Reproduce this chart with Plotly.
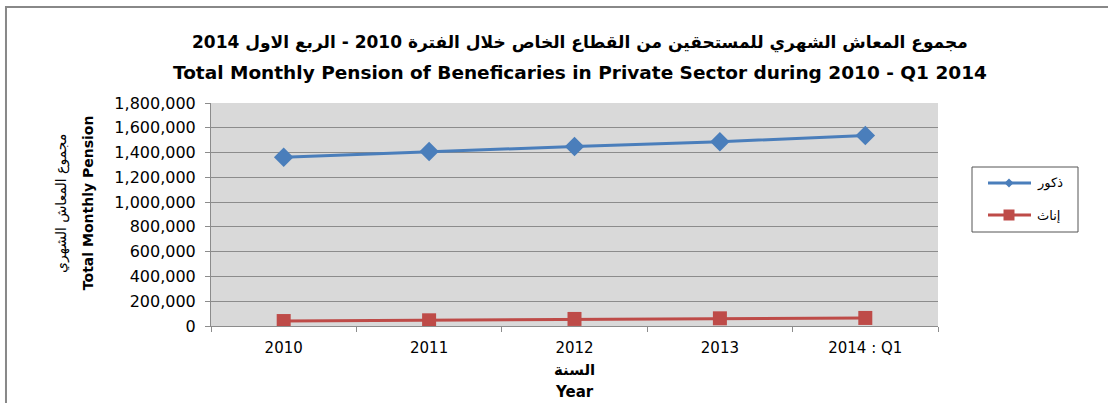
import plotly.graph_objects as go

years = ["2010", "2011", "2012", "2013", "2014 : Q1"]
males = [1363000, 1409000, 1449000, 1487000, 1538000]
females = [40000, 46000, 57000, 62000, 65000]
y_ticks = [0, 200000, 400000, 600000, 800000, 1000000, 1200000, 1400000, 1600000, 1800000]

series_names = ["ذكور", "إناث"]
title_ar = "مجموع المعاش الشهري للمستحقين من القطاع الخاص خلال الفترة 2010 - الربع الاول 2014"
title_en = "Total Monthly Pension of Beneficaries in Private Sector during 2010 - Q1 2014"
ytitle_ar = "مجموع المعاش الشهري"
ytitle_en = "Total Monthly Pension"
xtitle_ar = "السنة"
xtitle_en = "Year"

BLUE = "#4A7EBB"
RED = "#BE4B48"
GRID = "#8c8c8c"
FONT = "DejaVu Sans"

# plot-area geometry in pixels (used to place the hand-built legend in paper units)
PX_L, PX_R, PX_T, PX_B = 211, 938, 103, 326


def px(x):
    return (x - PX_L) / (PX_R - PX_L)


def py(y):
    return (PX_B - y) / (PX_B - PX_T)


fig = go.Figure()
fig.add_trace(go.Scatter(
    x=years, y=males, name=series_names[0], mode="lines+markers",
    line=dict(color=BLUE, width=3),
    marker=dict(symbol="diamond", size=15, color=BLUE),
))
fig.add_trace(go.Scatter(
    x=years, y=females, name=series_names[1], mode="lines+markers",
    line=dict(color=RED, width=3),
    marker=dict(symbol="square", size=14, color=RED),
))

annotations = [
    dict(text=f"<b>{title_ar}</b>", x=0.5076, y=1.2735, font=dict(size=17)),
    dict(text=f"<b>{title_en}</b>", x=0.5076, y=1.139, font=dict(size=18.5)),
    dict(text=f"<b>{xtitle_ar}</b>", x=0.5, y=-0.197, font=dict(size=15)),
    dict(text=f"<b>{xtitle_en}</b>", x=0.5, y=-0.296, font=dict(size=15)),
    dict(text=ytitle_ar, x=-0.205, y=0.5516, textangle=-90, font=dict(size=14)),
    dict(text=f"<b>{ytitle_en}</b>", x=-0.169, y=0.5516, textangle=-90, font=dict(size=14)),
]
for a in annotations:
    a.update(xanchor="center")

# legend: framed box with line + marker samples and labels
shapes = [
    dict(type="rect", x0=-0.282, x1=1.5, y0=-0.6, y1=1.4305,
         line=dict(color="#888888", width=2)),
    dict(type="rect", x0=px(972), x1=px(1078), y0=py(232), y1=py(167),
         line=dict(color="#555555", width=1), fillcolor="white"),
]
leg_rows = [(183, BLUE, "diamond"), (215, RED, "square")]
for (row_y, color, sym), name in zip(leg_rows, series_names):
    shapes.append(dict(type="line", x0=px(988), x1=px(1031), y0=py(row_y), y1=py(row_y),
                       line=dict(color=color, width=3)))
    cx, cy = 1009, row_y
    if sym == "diamond":
        h = 4.5
        path = (f"M {px(cx - h)} {py(cy)} L {px(cx)} {py(cy - h)} "
                f"L {px(cx + h)} {py(cy)} L {px(cx)} {py(cy + h)} Z")
        shapes.append(dict(type="path", path=path, fillcolor=color, line=dict(width=0)))
    else:
        h = 5.5
        shapes.append(dict(type="rect", x0=px(cx - h), x1=px(cx + h),
                           y0=py(cy + h), y1=py(cy - h),
                           fillcolor=color, line=dict(width=0)))
    annotations.append(dict(text=name, x=px(1035), y=py(row_y), xanchor="left",
                            font=dict(size=13)))

for a in annotations:
    a.update(xref="paper", yref="paper", yanchor="middle", showarrow=False)
    a["font"].update(family=FONT, color="black")
for s in shapes:
    s.update(xref="paper", yref="paper", layer="above")

fig.update_layout(
    width=1108, height=403,
    margin=dict(l=PX_L, r=1108 - PX_R, t=PX_T, b=403 - PX_B),
    paper_bgcolor="white",
    plot_bgcolor="#D9D9D9",
    font=dict(family=FONT, color="black"),
    showlegend=False,
    annotations=annotations,
    shapes=shapes,
)

fig.update_xaxes(
    type="category",
    range=[-0.5, len(years) - 0.5],
    showgrid=False,
    showline=True, linecolor=GRID, linewidth=1,
    ticks="outside", tickson="boundaries", ticklen=5, tickcolor=GRID,
    tickfont=dict(size=15, family=FONT),
    ticklabelstandoff=8,
)
fig.update_yaxes(
    range=[0, 1800000],
    tickvals=y_ticks,
    ticktext=[f"{v:,}" for v in y_ticks],
    showgrid=True, gridcolor=GRID, gridwidth=1,
    showline=True, linecolor=GRID, linewidth=1,
    ticks="outside", ticklen=5, tickcolor=GRID,
    tickfont=dict(size=16, family=FONT),
    ticklabelstandoff=6,
    zeroline=False,
)

fig.write_html("out.html")
